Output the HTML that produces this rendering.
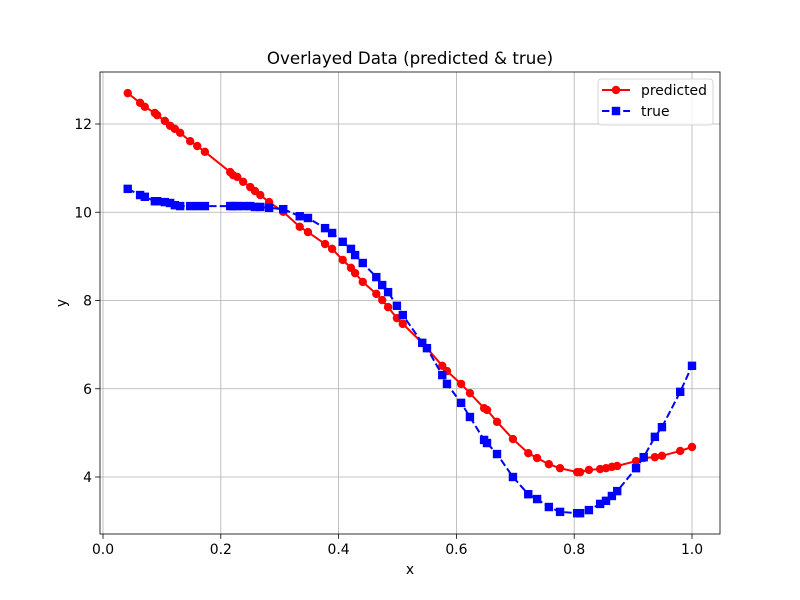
<!DOCTYPE html>
<html><head><meta charset="utf-8"><style>
body{margin:0;background:#fff;}
svg{display:block;font-family:"DejaVu Sans","Liberation Sans",sans-serif;}
</style></head><body>
<svg id="chart" width="800" height="600" xmlns="http://www.w3.org/2000/svg">
<rect x="0" y="0" width="800" height="600" fill="#fff"/>
<g id="grid"></g><g id="series"></g><g id="axes"></g>
</svg>
<script>
const xValues=[.042,.063,.071,.088,.092,.105,.114,.122,.131,.148,.160,.173,.216,.221,.228,.238,.250,.258,.267,.282,.306,.334,.348,.377,.389,.407,.421,.428,.441,.464,.474,.484,.499,.509,.542,.550,.576,.584,.608,.623,.647,.652,.669,.696,.722,.737,.757,.776,.805,.810,.825,.844,.854,.864,.873,.905,.918,.937,.949,.980,1.000];
const predicted=[12.70,12.48,12.39,12.25,12.20,12.07,11.96,11.89,11.80,11.61,11.50,11.37,10.91,10.84,10.80,10.69,10.57,10.48,10.39,10.23,10.01,9.67,9.55,9.28,9.17,8.92,8.74,8.62,8.42,8.15,8.01,7.85,7.60,7.47,7.04,6.92,6.52,6.40,6.11,5.90,5.56,5.52,5.25,4.86,4.54,4.43,4.29,4.20,4.11,4.11,4.16,4.18,4.20,4.23,4.25,4.36,4.43,4.45,4.48,4.59,4.68];
const trueVals=[10.53,10.39,10.35,10.25,10.25,10.23,10.21,10.16,10.14,10.14,10.14,10.14,10.14,10.14,10.14,10.14,10.14,10.12,10.12,10.10,10.07,9.91,9.87,9.64,9.53,9.33,9.17,9.03,8.85,8.53,8.35,8.19,7.88,7.67,7.04,6.92,6.31,6.11,5.68,5.36,4.84,4.77,4.52,4.00,3.61,3.50,3.32,3.21,3.18,3.18,3.25,3.39,3.46,3.57,3.68,4.20,4.45,4.91,5.13,5.93,6.52];
const xTicks=[0.0,0.2,0.4,0.6,0.8,1.0];
const xTickLabels=["0.0","0.2","0.4","0.6","0.8","1.0"];
const yTicks=[4,6,8,10,12];
const yTickLabels=["4","6","8","10","12"];

const L=100,R=720,T=72,B=534;
const sx=v=>103+v*589;
const sy=v=>477-(v-4)*44.125;
const NS="http://www.w3.org/2000/svg";
function mk(tag,attrs,parent,text){const e=document.createElementNS(NS,tag);for(const k in attrs)e.setAttribute(k,attrs[k]);if(text!==undefined)e.textContent=text;parent.appendChild(e);return e;}
const grid=document.getElementById('grid'),ser=document.getElementById('series'),ax=document.getElementById('axes');
xTicks.forEach((t,i)=>{
  const g=mk('line',{x1:sx(t),x2:sx(t),y1:T,y2:B,stroke:'#b0b0b0','stroke-width':0.8},grid);
  
  
  mk('line',{x1:sx(t),x2:sx(t),y1:B,y2:B+4.9,stroke:'#000','stroke-width':0.8},ax);
  const tl=mk('text',{x:sx(t),y:B+20,'font-size':13.9,'text-anchor':'middle',fill:'#000'},ax,xTickLabels[i]);
  
  
});
yTicks.forEach((t,i)=>{
  const g=mk('line',{x1:L,x2:R,y1:sy(t),y2:sy(t),stroke:'#b0b0b0','stroke-width':0.8},grid);
  
  
  mk('line',{x1:L-4.9,x2:L,y1:sy(t),y2:sy(t),stroke:'#000','stroke-width':0.8},ax);
  const tl=mk('text',{x:L-8,y:sy(t)+5,'font-size':13.9,'text-anchor':'end',fill:'#000'},ax,yTickLabels[i]);
  
  
});
const frame=mk('rect',{x:L,y:T,width:R-L,height:B-T,fill:'none',stroke:'#000','stroke-width':0.8},ax);


const pp=xValues.map((x,i)=>sx(x)+','+sy(predicted[i])).join(' ');
const pl=mk('polyline',{points:pp,fill:'none',stroke:'#ff0000','stroke-width':2},ser);


xValues.forEach((x,i)=>{
  const c=mk('circle',{cx:sx(x),cy:sy(predicted[i]),r:4.2,fill:'#ff0000'},ser);
  
  
});
const tp=xValues.map((x,i)=>sx(x)+','+sy(trueVals[i])).join(' ');
const tl2=mk('polyline',{points:tp,fill:'none',stroke:'#0000ff','stroke-width':2,'stroke-dasharray':'7.4,3.2'},ser);


xValues.forEach((x,i)=>{
  const s=mk('rect',{x:sx(x)-4.2,y:sy(trueVals[i])-4.2,width:8.4,height:8.4,fill:'#0000ff'},ser);
  
  
});
const title=mk('text',{x:410,y:64,'font-size':16.7,'text-anchor':'middle',fill:'#000'},ax,'Overlayed Data (predicted & true)');


const xl=mk('text',{x:410,y:574,'font-size':13.9,'text-anchor':'middle',fill:'#000'},ax,'x');


const yl=mk('text',{x:66,y:303,'font-size':13.9,'text-anchor':'middle',fill:'#000',transform:'rotate(-90 66 303)'},ax,'y');


const lg=mk('g',{},ax);


mk('rect',{x:598,y:79,width:115,height:46,rx:3,fill:'#fff','fill-opacity':0.8,stroke:'#cccccc','stroke-width':0.8},lg);
mk('line',{x1:602,x2:630,y1:90,y2:90,stroke:'#ff0000','stroke-width':2},lg);
mk('circle',{cx:616,cy:90,r:4.2,fill:'#ff0000'},lg);
const le1=mk('text',{x:641,y:95,'font-size':13.9,fill:'#000'},lg,'predicted');


mk('line',{x1:602,x2:630,y1:111,y2:111,stroke:'#0000ff','stroke-width':2,'stroke-dasharray':'7.4,3.2'},lg);
mk('rect',{x:611.8,y:106.8,width:8.4,height:8.4,fill:'#0000ff'},lg);
const le2=mk('text',{x:641,y:116,'font-size':13.9,fill:'#000'},lg,'true');


</script>
</body></html>
